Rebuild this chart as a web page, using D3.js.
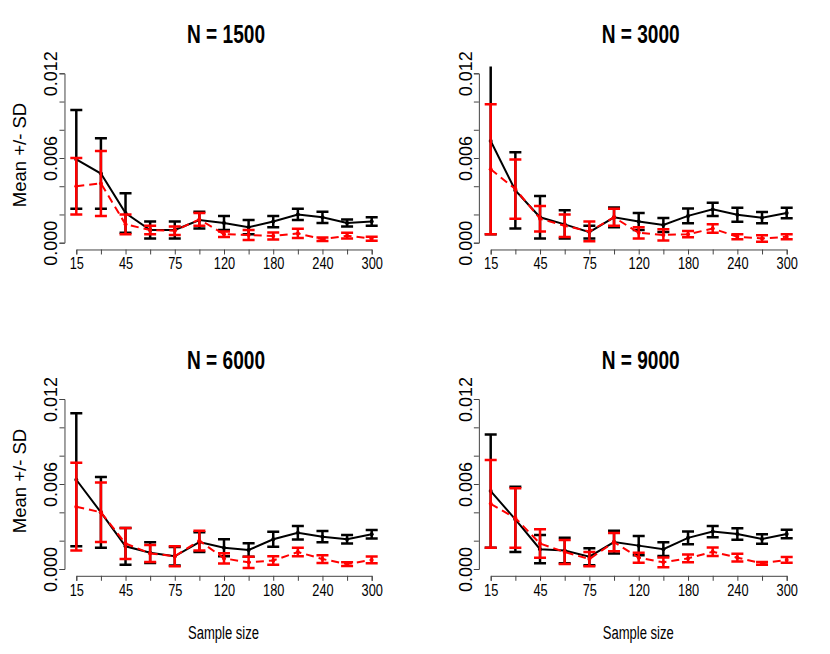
<!DOCTYPE html>
<html>
<head>
<meta charset="utf-8">
<script src="https://cdn.jsdelivr.net/npm/d3@7"></script>
<style>
  body { margin: 0; background: #fff; }
  svg { display: block; }
</style>
</head>
<body>
<div class="canvas"></div>
<script>
// sample sizes on the x axis (equally spaced positions)
const sampleSizes = [15, 30, 45, 60, 75, 90, 120, 150, 180, 210, 240, 270, 300];
const labelledSizes = [15, 45, 75, 120, 180, 240, 300];
const yTicks = [0, 0.002, 0.004, 0.006, 0.008, 0.010, 0.012];
const yLabelled = [0, 0.006, 0.012];
const panelTitles = ['N = 1500', 'N = 3000', 'N = 6000', 'N = 9000'];

// N = 1500
const mean1500Black = [0.0059, 0.0049, 0.0021, 0.0009, 0.0009, 0.0016, 0.0014, 0.0011, 0.0015, 0.0020, 0.0018, 0.0014, 0.0015];
const sd1500Black   = [0.0035, 0.0025, 0.0014, 0.0006, 0.0006, 0.0006, 0.0005, 0.0005, 0.0004, 0.0004, 0.0004, 0.00025, 0.0003];
const mean1500Red   = [0.0040, 0.0042, 0.0013, 0.0009, 0.00085, 0.00165, 0.0006, 0.00055, 0.00047, 0.00066, 0.00024, 0.0005, 0.00028];
const sd1500Red     = [0.0020, 0.0023, 0.0007, 0.0003, 0.0003, 0.00045, 0.0002, 0.00035, 0.00025, 0.00032, 0.00012, 0.0002, 0.00014];

// N = 3000
const mean3000Black = [0.0072, 0.0037, 0.0018, 0.0013, 0.00075, 0.0018, 0.0015, 0.00125, 0.0019, 0.00236, 0.00198, 0.00177, 0.0021];
const sd3000Black   = [0.0066, 0.0027, 0.0015, 0.0010, 0.00045, 0.0007, 0.0006, 0.0005, 0.00053, 0.00047, 0.0005, 0.0004, 0.00037];
const mean3000Red   = [0.0052, 0.0038, 0.0017, 0.0012, 0.0008, 0.0018, 0.0007, 0.00055, 0.0006, 0.0010, 0.00042, 0.0003, 0.00042];
const sd3000Red     = [0.0046, 0.0021, 0.0009, 0.0008, 0.0007, 0.0006, 0.0004, 0.0004, 0.00022, 0.0003, 0.00018, 0.00023, 0.00018];

// N = 6000
const mean6000Black = [0.0063, 0.0040, 0.0016, 0.00115, 0.0009, 0.0019, 0.0015, 0.00134, 0.0021, 0.00256, 0.00228, 0.0021, 0.00245];
const sd6000Black   = [0.0047, 0.0025, 0.0013, 0.00073, 0.00065, 0.0007, 0.0006, 0.00047, 0.00053, 0.00048, 0.0004, 0.0003, 0.0003];
const mean6000Red   = [0.0044, 0.0040, 0.0018, 0.0011, 0.0009, 0.0020, 0.00075, 0.00047, 0.0006, 0.0012, 0.0007, 0.00035, 0.00064];
const sd6000Red     = [0.0031, 0.0021, 0.0011, 0.0006, 0.0007, 0.0007, 0.00037, 0.0004, 0.0003, 0.0003, 0.00027, 0.00013, 0.00024];

// N = 9000
const mean9000Black = [0.0055, 0.0035, 0.0014, 0.0013, 0.00087, 0.0019, 0.00165, 0.0014, 0.0022, 0.00264, 0.00247, 0.00212, 0.00247];
const sd9000Black   = [0.0040, 0.0023, 0.0010, 0.0009, 0.0006, 0.0008, 0.00068, 0.00048, 0.00045, 0.0004, 0.0004, 0.00033, 0.0003];
const mean9000Red   = [0.0046, 0.0036, 0.0018, 0.0012, 0.0007, 0.0019, 0.0008, 0.00047, 0.00075, 0.00122, 0.0008, 0.0004, 0.00064];
const sd9000Red     = [0.0031, 0.0021, 0.0010, 0.00085, 0.0005, 0.00065, 0.00035, 0.00034, 0.00028, 0.0003, 0.00027, 0.0001, 0.0002];

const panels = [
  { title: panelTitles[0], black: [mean1500Black, sd1500Black], red: [mean1500Red, sd1500Red], col: 0, row: 0 },
  { title: panelTitles[1], black: [mean3000Black, sd3000Black], red: [mean3000Red, sd3000Red], col: 1, row: 0 },
  { title: panelTitles[2], black: [mean6000Black, sd6000Black], red: [mean6000Red, sd6000Red], col: 0, row: 1 },
  { title: panelTitles[3], black: [mean9000Black, sd9000Black], red: [mean9000Red, sd9000Red], col: 1, row: 1 }
];

// layout of the plot areas
const colX = [[76.3, 371.7], [490.7, 786.7]];
const rowY = [[242.7, 73.3], [569, 399]];

const svg = d3.select('.canvas')
  .append('svg')
    .attr('width', 830)
    .attr('height', 654);

panels.forEach((p, i) => {
  const x = d3.scaleLinear()
    .domain([0, sampleSizes.length - 1])
    .range(colX[p.col]);
  const y = d3.scaleLinear()
    .domain([0, 0.012])
    .range(rowY[p.row]);

  const g = svg.append('g');

  // clip to plot region (4% padding like base R)
  const padX = (x.range()[1] - x.range()[0]) * 0.04;
  const padY = (y.range()[0] - y.range()[1]) * 0.04;
  svg.append('clipPath')
    .attr('id', 'clip' + i)
    .append('rect')
      .attr('x', x.range()[0] - padX)
      .attr('y', y.range()[1] - padY)
      .attr('width', x.range()[1] - x.range()[0] + 2 * padX)
      .attr('height', y.range()[0] - y.range()[1] + 2 * padY);

  // x axis
  const xAxis = d3.axisBottom(x)
    .tickValues(d3.range(sampleSizes.length))
    .tickSizeOuter(0)
    .tickSize(5)
    .tickFormat(j => labelledSizes.includes(sampleSizes[j]) ? sampleSizes[j] : '');
  const xg = g.append('g')
    .attr('transform', `translate(0, ${y.range()[0] + padY})`)
    .call(xAxis);
  xg.selectAll('path, line').attr('stroke', '#444');
  xg.selectAll('text')
    .attr('font-family', 'Liberation Sans, Arial, sans-serif')
    .attr('font-size', '16px')
    .attr('fill', '#000')
    .attr('y', 20)
    .attr('dy', 0)
    .attr('transform', 'scale(0.8,1)');

  // y axis
  const yAxis = d3.axisLeft(y)
    .tickValues(yTicks)
    .tickSizeOuter(0)
    .tickSize(5)
    .tickFormat(v => yLabelled.some(l => Math.abs(l - v) < 1e-9) ? d3.format('.3f')(v) : '');
  const yg = g.append('g')
    .attr('transform', `translate(${x.range()[0] - padX}, 0)`)
    .call(yAxis);
  yg.selectAll('path, line').attr('stroke', '#444');
  yg.selectAll('text')
    .attr('font-family', 'Liberation Sans, Arial, sans-serif')
    .attr('font-size', '18px')
    .attr('fill', '#000')
    .attr('text-anchor', 'middle')
    .attr('x', 0)
    .attr('y', -7)
    .attr('dy', 0)
    .attr('transform', 'rotate(-90)');

  // title
  g.append('text')
    .attr('x', (x.range()[0] + x.range()[1]) / 2 + 2)
    .attr('y', y.range()[1] - 30)
    .attr('text-anchor', 'middle')
    .attr('font-family', 'Liberation Sans, Arial, sans-serif')
    .attr('font-weight', 'bold')
    .attr('font-size', '26px')
    .attr('textLength', 78)
    .attr('lengthAdjust', 'spacingAndGlyphs')
    .text(p.title);

  // x label (bottom row only)
  if (p.row === 1) {
    g.append('text')
      .attr('x', (x.range()[0] + x.range()[1]) / 2 - 0.5)
      .attr('y', 639)
      .attr('text-anchor', 'middle')
      .attr('font-family', 'Liberation Sans, Arial, sans-serif')
      .attr('font-size', '18px')
      .attr('textLength', 71)
      .attr('lengthAdjust', 'spacingAndGlyphs')
      .text('Sample size');
  }

  // y label (left column only)
  if (p.col === 0) {
    const cy = (y.range()[0] + y.range()[1]) / 2 - 3;
    g.append('text')
      .attr('transform', `translate(26, ${cy}) rotate(-90)`)
      .attr('text-anchor', 'middle')
      .attr('font-family', 'Liberation Sans, Arial, sans-serif')
      .attr('font-size', '18.5px')
      .text('Mean +/- SD');
  }

  const plot = g.append('g').attr('clip-path', `url(#clip${i})`);

  const series = [
    { vals: p.black, color: '#000', dash: null },
    { vals: p.red, color: '#ff0000', dash: '8,5' }
  ];

  series.forEach(s => {
    const [means, sds] = s.vals;
    const pts = means.map((m, j) => ({ j, m, sd: sds[j] }));

    const line = d3.line()
      .x(d => x(d.j))
      .y(d => y(d.m));

    plot.append('path')
      .datum(pts)
      .attr('fill', 'none')
      .attr('stroke', s.color)
      .attr('stroke-width', 2)
      .attr('stroke-dasharray', s.dash)
      .attr('d', line);

    plot.selectAll(null)
      .data(pts)
      .enter().append('circle')
        .attr('cx', d => x(d.j))
        .attr('cy', d => y(d.m))
        .attr('r', 2)
        .attr('fill', s.color);

    // error bars
    const bars = plot.selectAll(null)
      .data(pts)
      .enter().append('g')
        .attr('stroke', s.color)
        .attr('stroke-width', 2.5);
    bars.append('line')
      .attr('x1', d => x(d.j))
      .attr('x2', d => x(d.j))
      .attr('y1', d => y(d.m - d.sd))
      .attr('y2', d => y(d.m + d.sd));
    bars.append('line')
      .attr('x1', d => x(d.j) - 6)
      .attr('x2', d => x(d.j) + 6)
      .attr('y1', d => y(d.m + d.sd))
      .attr('y2', d => y(d.m + d.sd));
    bars.append('line')
      .attr('x1', d => x(d.j) - 6)
      .attr('x2', d => x(d.j) + 6)
      .attr('y1', d => y(d.m - d.sd))
      .attr('y2', d => y(d.m - d.sd));
  });
});
</script>
</body>
</html>
